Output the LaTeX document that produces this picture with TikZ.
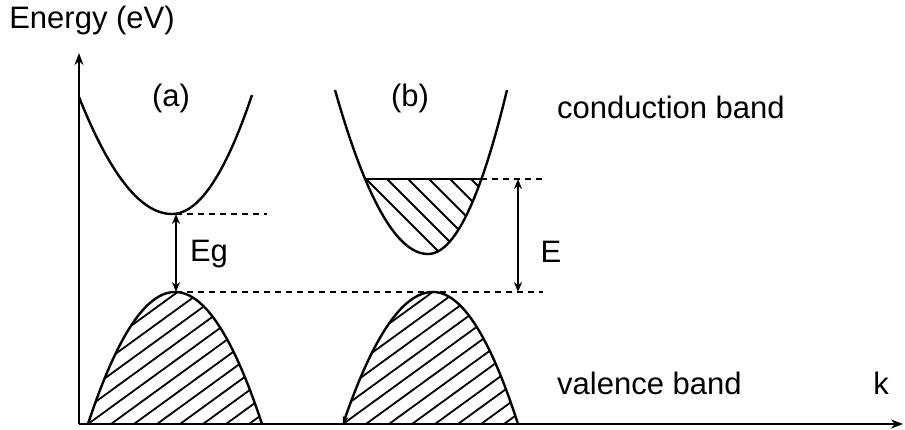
\documentclass[tikz,border=0pt]{standalone}
\usepackage{fontspec}
\setmainfont{Liberation Sans}
\usetikzlibrary{arrows.meta}

\begin{document}
\begin{tikzpicture}[x=1pt,y=1pt,
  band/.style={black, line width=2.4pt},
  axis/.style={black, line width=2.8pt, -{Stealth[length=12pt,width=9pt]}},
  hatchline/.style={black, line width=1.8pt},
  level/.style={black, line width=2.2pt, dash pattern=on 6pt off 5pt},
  gaparrow/.style={black, line width=1.8pt, {Stealth[length=10pt,width=8pt]}-{Stealth[length=10pt,width=8pt]}},
  lbl/.style={font=\fontsize{31}{36}\selectfont, inner sep=0pt}]
\useasboundingbox (0,0) rectangle (905,430);
% axes
\coordinate (origin) at (79,6);
\coordinate (etop) at (79,377);
\coordinate (kend) at (903,6);
\draw[axis] (origin) -- (etop);
\draw[axis] (origin) -- (kend);
\node[lbl] (energy) at (92,410) {Energy (eV)};
\node[lbl] (kaxis) at (881,47) {k};
% (a) conduction band
\draw[band] plot[domain=-93:0, samples=40] ({172+\x},{216+117*(\x/93)^2})
  -- plot[domain=0:80, samples=40] ({172+\x},{216+119*(\x/80)^2});
% (a) valence band
\begin{scope}
\clip plot[domain=-87:87, samples=60] ({175+\x},{138-132*(\x/87)^2}) -- cycle;
\foreach \i in {-8,...,8}
  \draw[hatchline] ({88+23*\i},6) -- ++(36:320);
\end{scope}
\draw[band] plot[domain=-87:87, samples=60] ({175+\x},{138-132*(\x/87)^2});
% (b) conduction band, filled part
\begin{scope}
\clip (330,150) rectangle (520,251);
\clip plot[domain=-93:0, samples=40] ({428+\x},{176+164*(\x/93)^2})
  -- plot[domain=0:79, samples=40] ({428+\x},{176+164*(\x/79)^2}) -- cycle;
\foreach \i in {0,...,6}
  \draw[hatchline] ({366+21*\i},251) -- ++(-45:160);
\end{scope}
\draw[band] plot[domain=-93:0, samples=40] ({428+\x},{176+164*(\x/93)^2})
  -- plot[domain=0:79, samples=40] ({428+\x},{176+164*(\x/79)^2});
\coordinate (fermil) at (365,251);
\coordinate (fermir) at (481,251);
\draw[band] (fermil) -- (fermir);
% (b) valence band
\begin{scope}
\clip plot[domain=-90:0, samples=40] ({433+\x},{138-132*(\x/90)^2})
  -- plot[domain=0:85, samples=40] ({433+\x},{138-132*(\x/85)^2}) -- cycle;
\foreach \i in {-8,...,8}
  \draw[hatchline] ({343+23*\i},6) -- ++(36:320);
\end{scope}
\draw[band, {Stealth[length=8pt,width=6pt]}-] plot[domain=-90:0, samples=40] ({433+\x},{138-132*(\x/90)^2})
  -- plot[domain=0:85, samples=40] ({433+\x},{138-132*(\x/85)^2});
% levels and gaps
\coordinate (cbmin) at (176,216);
\coordinate (vbmax) at (176,138);
\coordinate (cbend) at (267,216);
\coordinate (vbend) at (543,138);
\coordinate (fermiend) at (543,251);
\coordinate (etopb) at (518,251);
\coordinate (ebot) at (518,138);
\draw[level] (cbmin) -- (cbend);
\draw[level] (vbmax) -- (vbend);
\draw[level] (fermir) -- (fermiend);
\draw[gaparrow] (cbmin) -- (vbmax);
\draw[gaparrow] (etopb) -- (ebot);
\node[lbl] (eg) at (209,176) {Eg};
\node[lbl] (egap) at (551,178) {E};
% band labels
\node[lbl] (lbla) at (171,332) {(a)};
\node[lbl] (lblb) at (410,332) {(b)};
\node[lbl, anchor=west] (cond) at (557,323) {conduction band};
\node[lbl, anchor=west] (val) at (557,47) {valence band};
\end{tikzpicture}
\end{document}
